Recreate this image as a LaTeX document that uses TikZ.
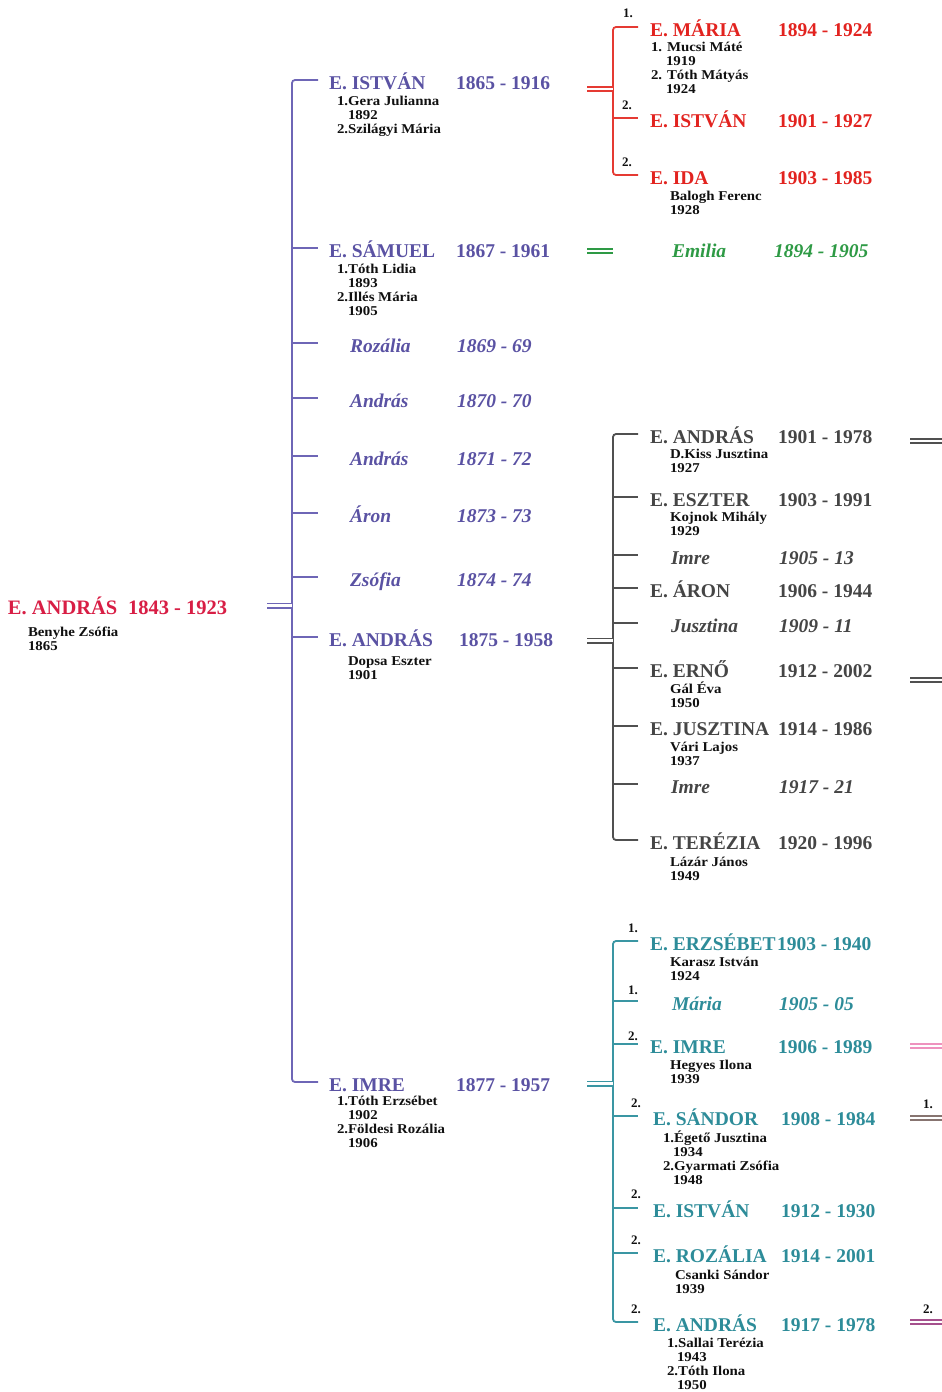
\documentclass[tikz,border=0pt]{standalone}
\usepackage{fontspec}
\setmainfont{Liberation Serif}
\newfontfamily\spousefont[FakeStretch=1.1]{Liberation Serif}
\usetikzlibrary{calc}
\definecolor{rootRed}{HTML}{D81E45}
\definecolor{purpText}{HTML}{5A52A3}
\definecolor{purpLine}{HTML}{6E66B6}
\definecolor{redText}{HTML}{E2231F}
\definecolor{redLine}{HTML}{E53A33}
\definecolor{greenText}{HTML}{2E9A45}
\definecolor{greyText}{HTML}{454545}
\definecolor{greyLine}{HTML}{505050}
\definecolor{tealText}{HTML}{2D8C99}
\definecolor{tealLine}{HTML}{3A96A3}
\definecolor{pinkLine}{HTML}{EE92BE}
\definecolor{mauveLine}{HTML}{A5508D}
\definecolor{taupeLine}{HTML}{877470}
\definecolor{inkText}{HTML}{101010}

\begin{document}
\begin{tikzpicture}[
  x=1pt, y=-1pt,
  every node/.style={inner sep=0pt, outer sep=0pt},
  who/.style={anchor=west, text height=18pt, text depth=0pt,
              font=\fontsize{19.5}{22}\selectfont\bfseries},
  whoit/.style={who, font=\fontsize{19.5}{22}\selectfont\bfseries\itshape},
  % spouse blocks are placed by the baseline of their LAST line
  spouse/.style={anchor=base west, align=left, text=inkText,
                 font=\fontsize{13.5}{14}\spousefont\bfseries},
  ord/.style={anchor=base west, text=inkText, font=\fontsize{13}{14}\selectfont\bfseries},
  kin/.style={line width=1.8pt},
  marr/.style={double, double distance=2.6pt, line width=1.7pt},
]
\useasboundingbox (0,0) rectangle (942,1392);

% ---------------- ROOT ----------------
\node[who, text=rootRed, font=\fontsize{20.5}{22}\selectfont\bfseries] (root) at (8,605) {E. ANDRÁS};
\node[who, text=rootRed, font=\fontsize{20.5}{22}\selectfont\bfseries] (rootD) at (128,605) {1843 - 1923};
\node[spouse] (rootSp) at (28,650) {Benyhe Zsófia\\1865};

% ---------------- CHILDREN (purple) ----------------
\node[who, text=purpText] (istvan) at (329,80) {E. ISTVÁN};
\node[who, text=purpText] (istvanD) at (456,80) {1865 - 1916};
\node[spouse] (istvanSp) at (337,133) {1.Gera Julianna\\\hspace*{11pt}1892\\2.Szilágyi Mária};

\node[who, text=purpText] (samuel) at (329,248) {E. SÁMUEL};
\node[who, text=purpText] (samuelD) at (456,248) {1867 - 1961};
\node[spouse] (samuelSp) at (337,315) {1.Tóth Lidia\\\hspace*{11pt}1893\\2.Illés Mária\\\hspace*{11pt}1905};

\node[whoit, text=purpText] (rozalia) at (350,343) {Rozália};
\node[whoit, text=purpText] (rozaliaD) at (457,343) {1869 - 69};
\node[whoit, text=purpText] (andras70) at (350,398) {András};
\node[whoit, text=purpText] (andras70D) at (457,398) {1870 - 70};
\node[whoit, text=purpText] (andras71) at (350,456) {András};
\node[whoit, text=purpText] (andras71D) at (457,456) {1871 - 72};
\node[whoit, text=purpText] (aron) at (350,513) {Áron};
\node[whoit, text=purpText] (aronD) at (457,513) {1873 - 73};
\node[whoit, text=purpText] (zsofia) at (350,577) {Zsófia};
\node[whoit, text=purpText] (zsofiaD) at (457,577) {1874 - 74};

\node[who, text=purpText] (andras) at (329,637) {E. ANDRÁS};
\node[who, text=purpText] (andrasD) at (459,637) {1875 - 1958};
\node[spouse] (andrasSp) at (348,679) {Dopsa Eszter\\1901};

\node[who, text=purpText] (imre) at (329,1082) {E. IMRE};
\node[who, text=purpText] (imreD) at (456,1082) {1877 - 1957};
\node[spouse] (imreSp) at (337,1147) {1.Tóth Erzsébet\\\hspace*{11pt}1902\\2.Földesi Rozália\\\hspace*{11pt}1906};

% ---------------- GRANDCHILDREN of István (red) ----------------
\node[who, text=redText] (maria) at (650,27) {E. MÁRIA};
\node[who, text=redText] (mariaD) at (778,27) {1894 - 1924};
\node[spouse] (mariaSp) at (651,93) {1. Mucsi Máté\\\hspace*{15pt}1919\\2. Tóth Mátyás\\\hspace*{15pt}1924};
\node[who, text=redText] (istvanR) at (650,118) {E. ISTVÁN};
\node[who, text=redText] (istvanRD) at (778,118) {1901 - 1927};
\node[who, text=redText] (ida) at (650,175) {E. IDA};
\node[who, text=redText] (idaD) at (778,175) {1903 - 1985};
\node[spouse] (idaSp) at (670,214) {Balogh Ferenc\\1928};
\node[ord] (mariaN) at (623,17) {1.};
\node[ord] (istvanRN) at (622,109) {2.};
\node[ord] (idaN) at (622,166) {2.};

% ---------------- GRANDCHILD of Sámuel (green) ----------------
\node[whoit, text=greenText] (emilia) at (672,248) {Emilia};
\node[whoit, text=greenText] (emiliaD) at (774,248) {1894 - 1905};

% ---------------- GRANDCHILDREN of András (grey) ----------------
\node[who, text=greyText] (andrasG) at (650,434) {E. ANDRÁS};
\node[who, text=greyText] (andrasGD) at (778,434) {1901 - 1978};
\node[spouse] (andrasGSp) at (670,472) {D.Kiss Jusztina\\1927};
\node[who, text=greyText] (eszter) at (650,497) {E. ESZTER};
\node[who, text=greyText] (eszterD) at (778,497) {1903 - 1991};
\node[spouse] (eszterSp) at (670,535) {Kojnok Mihály\\1929};
\node[whoit, text=greyText] (imreG) at (671,555) {Imre};
\node[whoit, text=greyText] (imreGD) at (779,555) {1905 - 13};
\node[who, text=greyText] (aronG) at (650,588) {E. ÁRON};
\node[who, text=greyText] (aronGD) at (778,588) {1906 - 1944};
\node[whoit, text=greyText] (jusztinaG) at (671,623) {Jusztina};
\node[whoit, text=greyText] (jusztinaGD) at (779,623) {1909 - 11};
\node[who, text=greyText] (erno) at (650,668) {E. ERNŐ};
\node[who, text=greyText] (ernoD) at (778,668) {1912 - 2002};
\node[spouse] (ernoSp) at (670,707) {Gál Éva\\1950};
\node[who, text=greyText] (jusztina) at (650,726) {E. JUSZTINA};
\node[who, text=greyText] (jusztinaD) at (778,726) {1914 - 1986};
\node[spouse] (jusztinaSp) at (670,765) {Vári Lajos\\1937};
\node[whoit, text=greyText] (imreG2) at (671,784) {Imre};
\node[whoit, text=greyText] (imreG2D) at (779,784) {1917 - 21};
\node[who, text=greyText] (terezia) at (650,840) {E. TERÉZIA};
\node[who, text=greyText] (tereziaD) at (778,840) {1920 - 1996};
\node[spouse] (tereziaSp) at (670,880) {Lázár János\\1949};

% ---------------- GRANDCHILDREN of Imre (teal) ----------------
\node[who, text=tealText] (erzsebet) at (650,941) {E. ERZSÉBET};
\node[who, text=tealText] (erzsebetD) at (777,941) {1903 - 1940};
\node[spouse] (erzsebetSp) at (670,980) {Karasz István\\1924};
\node[whoit, text=tealText] (mariaT) at (672,1001) {Mária};
\node[whoit, text=tealText] (mariaTD) at (779,1001) {1905 - 05};
\node[who, text=tealText] (imreT) at (650,1044) {E. IMRE};
\node[who, text=tealText] (imreTD) at (778,1044) {1906 - 1989};
\node[spouse] (imreTSp) at (670,1083) {Hegyes Ilona\\1939};
\node[who, text=tealText] (sandor) at (653,1116) {E. SÁNDOR};
\node[who, text=tealText] (sandorD) at (781,1116) {1908 - 1984};
\node[spouse] (sandorSp) at (663,1184) {1.Égető Jusztina\\\hspace*{10pt}1934\\2.Gyarmati Zsófia\\\hspace*{10pt}1948};
\node[who, text=tealText] (istvanT) at (653,1208) {E. ISTVÁN};
\node[who, text=tealText] (istvanTD) at (781,1208) {1912 - 1930};
\node[who, text=tealText] (rozaliaT) at (653,1253) {E. ROZÁLIA};
\node[who, text=tealText] (rozaliaTD) at (781,1253) {1914 - 2001};
\node[spouse] (rozaliaTSp) at (675,1293) {Csanki Sándor\\1939};
\node[who, text=tealText] (andrasT) at (653,1322) {E. ANDRÁS};
\node[who, text=tealText] (andrasTD) at (781,1322) {1917 - 1978};
\node[spouse] (andrasTSp) at (667,1389) {1.Sallai Terézia\\\hspace*{10pt}1943\\2.Tóth Ilona\\\hspace*{10pt}1950};
\node[ord] (erzsebetN) at (628,932) {1.};
\node[ord] (mariaTN) at (628,994) {1.};
\node[ord] (imreTN) at (628,1040) {2.};
\node[ord] (sandorN) at (631,1107) {2.};
\node[ord] (istvanTN) at (631,1198) {2.};
\node[ord] (rozaliaTN) at (631,1244) {2.};
\node[ord] (andrasTN) at (631,1313) {2.};
\node[ord] (sandorMN) at (923,1108) {1.};
\node[ord] (andrasTMN) at (923,1313) {2.};

% ---------------- SPINES ----------------
\coordinate (pSpine) at (292,0);
\coordinate (pTip) at (318,0);
\coordinate (kSpine) at (613,0);
\coordinate (kTip) at (638,0);
\coordinate (edgeR) at (942,0);

\draw[kin, draw=purpLine, rounded corners=3pt] (pTip |- istvan.west) -| (pSpine |- andras.west) |- (pTip |- imre.west);
\draw[kin, draw=purpLine] (pSpine |- samuel.west) -- (pTip |- samuel.west);
\draw[kin, draw=purpLine] (pSpine |- rozalia.west) -- (pTip |- rozalia.west);
\draw[kin, draw=purpLine] (pSpine |- andras70.west) -- (pTip |- andras70.west);
\draw[kin, draw=purpLine] (pSpine |- andras71.west) -- (pTip |- andras71.west);
\draw[kin, draw=purpLine] (pSpine |- aron.west) -- (pTip |- aron.west);
\draw[kin, draw=purpLine] (pSpine |- zsofia.west) -- (pTip |- zsofia.west);
\draw[kin, draw=purpLine] (pSpine |- andras.west) -- (pTip |- andras.west);

\draw[kin, draw=redLine, rounded corners=3pt] (kTip |- maria.west) -| (kSpine |- istvanR.west) |- (kTip |- ida.west);
\draw[kin, draw=redLine] (kSpine |- istvanR.west) -- (kTip |- istvanR.west);

\draw[kin, draw=greyLine, rounded corners=3pt] (kTip |- andrasG.west) -| (kSpine |- aronG.west) |- (kTip |- terezia.west);
\draw[kin, draw=greyLine] (kSpine |- eszter.west) -- (kTip |- eszter.west);
\draw[kin, draw=greyLine] (kSpine |- imreG.west) -- (kTip |- imreG.west);
\draw[kin, draw=greyLine] (kSpine |- aronG.west) -- (kTip |- aronG.west);
\draw[kin, draw=greyLine] (kSpine |- jusztinaG.west) -- (kTip |- jusztinaG.west);
\draw[kin, draw=greyLine] (kSpine |- erno.west) -- (kTip |- erno.west);
\draw[kin, draw=greyLine] (kSpine |- jusztina.west) -- (kTip |- jusztina.west);
\draw[kin, draw=greyLine] (kSpine |- imreG2.west) -- (kTip |- imreG2.west);

\draw[kin, draw=tealLine, rounded corners=3pt] (kTip |- erzsebet.west) -| (kSpine |- sandor.west) |- (kTip |- andrasT.west);
\draw[kin, draw=tealLine] (kSpine |- mariaT.west) -- (kTip |- mariaT.west);
\draw[kin, draw=tealLine] (kSpine |- imreT.west) -- (kTip |- imreT.west);
\draw[kin, draw=tealLine] (kSpine |- sandor.west) -- (kTip |- sandor.west);
\draw[kin, draw=tealLine] (kSpine |- istvanT.west) -- (kTip |- istvanT.west);
\draw[kin, draw=tealLine] (kSpine |- rozaliaT.west) -- (kTip |- rozaliaT.west);

% ---------------- MARRIAGES (double lines) ----------------
\coordinate (rootMar) at (267,605.5);
\coordinate (istvanMar) at (587,89);
\coordinate (samuelMar) at (587,251);
\coordinate (andrasMar) at (587,640.5);
\coordinate (imreMar) at (587,1083.5);
\draw[marr, draw=purpLine] (rootMar) -- (pSpine |- rootMar);
\draw[marr, draw=redLine] (istvanMar) -- (kSpine |- istvanMar);
\draw[marr, draw=greenText] (samuelMar) -- (kSpine |- samuelMar);
\draw[marr, draw=greyLine] (andrasMar) -- (kSpine |- andrasMar);
\draw[marr, draw=tealLine] (imreMar) -- (kSpine |- imreMar);

% stubs running off the right edge
\coordinate (andrasGMar) at (910,441);
\coordinate (ernoMar) at (910,680);
\coordinate (imreTMar) at (910,1046);
\coordinate (sandorMar) at (910,1118);
\coordinate (andrasTMar) at (910,1322);
\draw[marr, draw=greyLine] (andrasGMar) -- (edgeR |- andrasGMar);
\draw[marr, draw=greyLine] (ernoMar) -- (edgeR |- ernoMar);
\draw[marr, draw=pinkLine] (imreTMar) -- (edgeR |- imreTMar);
\draw[marr, draw=taupeLine] (sandorMar) -- (edgeR |- sandorMar);
\draw[marr, draw=mauveLine] (andrasTMar) -- (edgeR |- andrasTMar);
\end{tikzpicture}
\end{document}
